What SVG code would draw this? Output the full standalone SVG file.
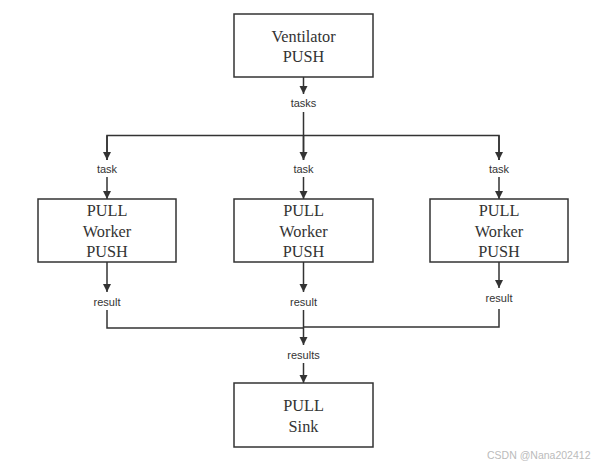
<svg xmlns="http://www.w3.org/2000/svg" width="597" height="467" viewBox="0 0 597 467">
<style>
.box{fill:#fff;stroke:#333;stroke-width:1.5}
.t{font-family:"Liberation Serif","Times New Roman",serif;font-size:16.3px;fill:#333;text-anchor:middle}
.l{font-family:"Liberation Sans",Arial,sans-serif;font-size:11px;fill:#333;text-anchor:middle}
.c{fill:none;stroke:#333;stroke-width:1.5}
.w{font-family:"Liberation Sans",Arial,sans-serif;font-size:10.5px;fill:#bbb}
</style>
<defs>
<marker id="a" viewBox="0 0 10 10" refX="10" refY="5" markerWidth="8" markerHeight="10" markerUnits="userSpaceOnUse" orient="auto">
<path d="M0,0 L10,5 L0,10 Z" fill="#333"/>
</marker>
</defs>
<rect width="597" height="467" fill="#fff"/>
<g id="connectors">
<path class="c" d="M303.5,77 V94" marker-end="url(#a)"/>
<text class="l" x="303.5" y="107">tasks</text>
<path class="c" d="M303.5,112 V135.5 M107,160 V135.5 H499 V160 M303.5,135.5 V160"/>
<path class="c" d="M107,135.5 V160" marker-end="url(#a)"/>
<path class="c" d="M303.5,135.5 V160" marker-end="url(#a)"/>
<path class="c" d="M499,135.5 V160" marker-end="url(#a)"/>
<text class="l" x="107" y="173">task</text>
<text class="l" x="303.5" y="173">task</text>
<text class="l" x="499" y="173">task</text>
<path class="c" d="M107,177 V199" marker-end="url(#a)"/>
<path class="c" d="M303.5,177 V199" marker-end="url(#a)"/>
<path class="c" d="M499,177 V199" marker-end="url(#a)"/>
<path class="c" d="M107,262 V292" marker-end="url(#a)"/>
<path class="c" d="M303.5,262 V292" marker-end="url(#a)"/>
<path class="c" d="M499,262 V288" marker-end="url(#a)"/>
<text class="l" x="107" y="306">result</text>
<text class="l" x="303.5" y="306">result</text>
<text class="l" x="499" y="302">result</text>
<path class="c" d="M107,310 V328 H303.5 M499,309 V327 H303.5"/>
<path class="c" d="M303.5,310 V345" marker-end="url(#a)"/>
<text class="l" x="303.5" y="359">results</text>
<path class="c" d="M303.5,363 V383" marker-end="url(#a)"/>
</g>
<g id="ventilator">
<rect class="box" x="234" y="14" width="139" height="63"/>
<text class="t" x="303.5" y="42">Ventilator</text>
<text class="t" x="303.5" y="62">PUSH</text>
</g>
<g id="worker1">
<rect class="box" x="38" y="199" width="138" height="63"/>
<text class="t" x="107" y="215.5">PULL</text>
<text class="t" x="107" y="236.5">Worker</text>
<text class="t" x="107" y="257">PUSH</text>
</g>
<g id="worker2">
<rect class="box" x="234" y="199" width="139" height="63"/>
<text class="t" x="303.5" y="215.5">PULL</text>
<text class="t" x="303.5" y="236.5">Worker</text>
<text class="t" x="303.5" y="257">PUSH</text>
</g>
<g id="worker3">
<rect class="box" x="430" y="199" width="138" height="63"/>
<text class="t" x="499" y="215.5">PULL</text>
<text class="t" x="499" y="236.5">Worker</text>
<text class="t" x="499" y="257">PUSH</text>
</g>
<g id="sink">
<rect class="box" x="234" y="383" width="139" height="64"/>
<text class="t" x="303.5" y="411">PULL</text>
<text class="t" x="303.5" y="432">Sink</text>
</g>
<text class="w" x="487" y="459">CSDN @Nana202412</text>
</svg>
